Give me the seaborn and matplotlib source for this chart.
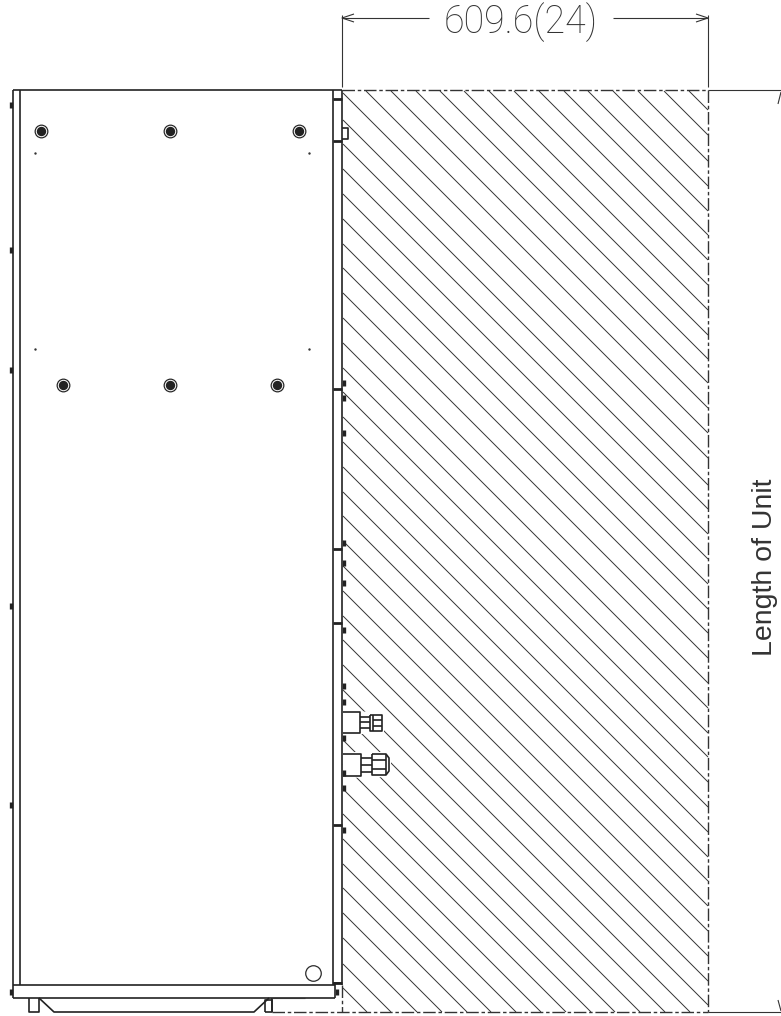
import pandas as pd
import matplotlib.pyplot as plt
import seaborn as sns

bolt_x_top = [41, 170, 299]
bolt_y_top = [131, 131, 131]
bolt_x_low = [63, 170, 277]
bolt_y_low = [385, 385, 385]
dot_x = [35, 309, 35, 309]
dot_y = [153, 153, 349, 349]
strip_bars = [99, 141, 389, 549, 623, 825, 983]
left_nubs = [105, 250, 370, 606, 805]
right_nubs = [383, 398, 433, 543, 563, 583, 630, 686, 702, 738, 773, 788, 830]
# hatch lines as y - x
hatch_offsets = [-598, -573, -547, -522, -497, -473, -448, -423, -398, -373, -349, -325,
                 -300, -275, -250, -223, -199, -174, -149, -124, -99, -75, -50, -25, 0,
                 25, 49, 74, 99, 124, 149, 173, 198, 223, 248, 273, 297, 322, 347, 372,
                 397, 421, 446, 471, 496, 521, 545, 570, 595, 621, 645]
# white areas where the hatch stops at the fittings
fitting_masks = [
    [(343, 710), (384, 713), (384, 733), (343, 735)],
    [(343, 752), (391, 752), (391, 777), (343, 778)],
]

outline = [
    [(13, 90), (342, 90)], [(13, 90), (13, 985)], [(19.5, 90), (19.5, 985)],
    [(333, 90), (333, 985)], [(342, 90), (342, 985)],
    [(13, 985), (335, 985)], [(13, 998), (335, 998)], [(12.5, 985), (12.5, 998)],
    [(334.5, 983), (334.5, 998)], [(333, 983), (342, 983)],
    [(29, 998), (29, 1012), (39, 1012), (39, 998)],
    [(39, 998), (54, 1012), (254, 1012), (269, 998)],
    [(265, 1012), (265, 1000), (272, 1000), (272, 1012), (265, 1012)],
    [(272, 998), (272, 1012)],
    [(342, 128), (348, 128), (348, 139), (342, 139)],
    # upper fitting
    [(343, 712), (360, 712), (360, 733), (343, 733)],
    [(360, 717), (370, 717)], [(360, 722), (370, 722)], [(360, 728), (370, 728)],
    [(370, 715), (382, 715), (382, 731), (370, 731), (370, 715)],
    [(373, 715), (373, 731)], [(373, 720), (382, 720)], [(373, 726), (382, 726)],
    # lower fitting
    [(343, 754), (360.5, 754), (360.5, 776), (343, 776)],
    [(360.5, 758), (372, 758)], [(360.5, 765), (372, 765)], [(360.5, 772), (372, 772)],
    [(372, 754), (386, 754), (389, 758), (389, 771), (386, 775), (372, 775), (372, 754)],
    [(386, 754), (386, 775)], [(372, 760), (386, 760)], [(372, 769), (386, 769)],
]
dim_lines = [
    [(342, 15), (342, 87)], [(708, 15), (708, 87)],
    [(342, 18), (429, 18)], [(613, 18), (708, 18)],
    [(354, 14), (342, 18), (354, 22)], [(696, 14), (708, 18), (696, 22)],
    [(708, 90), (781, 90)], [(708, 1012), (781, 1012)],
    [(272, 998), (305, 998)],
    [(781, 92), (778, 104)], [(778, 1000), (781, 1011)],
]
dashed_lines = [
    [(342, 90), (708, 90)], [(708, 90), (708, 1012)],
    [(272, 1012), (708, 1012)], [(342, 985), (342, 1012)],
]
HATCH_LEFT, HATCH_RIGHT, HATCH_TOP, HATCH_BOTTOM = 343, 708, 91, 1012


def to_frame(segments):
    rows = []
    for seg_id, seg in enumerate(segments):
        for order, (x, y) in enumerate(seg):
            rows.append({"seg": seg_id, "order": order, "x": x, "y": y})
    return pd.DataFrame(rows)


def draw(ax, segments, color, lw, **kws):
    sns.lineplot(data=to_frame(segments), x="x", y="y", units="seg", estimator=None,
                 sort=False, color=color, linewidth=lw, ax=ax, legend=False,
                 solid_capstyle="butt", errorbar=None, **kws)


def hatch_segment(c):
    # line y = x + c cut to the hatched area
    x0 = max(HATCH_LEFT, HATCH_TOP - c)
    x1 = min(HATCH_RIGHT, HATCH_BOTTOM - c)
    return [(x0, x0 + c), (x1, x1 + c)]


sns.set_theme(style="white")
plt.rcParams["font.family"] = ["Liberation Sans", "DejaVu Sans"]

fig = plt.figure(figsize=(7.81, 10.16), dpi=100)
ax = fig.add_axes([0, 0, 1, 1])

# Hatched service clearance
draw(ax, [hatch_segment(c) for c in hatch_offsets], "#333333", 0.7)
for mask in fitting_masks:
    ax.fill(*zip(*mask), color="white", linewidth=0, zorder=2)

# Unit outline and fittings
draw(ax, outline, "#222222", 1.2)
bars = [[(333, y), (342, y)] for y in strip_bars]
draw(ax, bars, "#222222", 2.0)
nubs_l = [[(10.5, y - 3), (10.5, y + 3)] for y in left_nubs + [992]]
nubs_r = [[(344, y - 3), (344, y + 3)] for y in right_nubs]
draw(ax, nubs_l + nubs_r + [[(336.5, 989), (336.5, 995)]], "#222222", 2.4)

# Dimension lines
draw(ax, dim_lines, "#333333", 0.8)
draw(ax, dashed_lines, "#333333", 1.0, linestyle=(0, (9, 2, 2.5, 2)))

# Bolts, dots and the round knock-out
bolts = pd.DataFrame({"x": bolt_x_top + bolt_x_low, "y": bolt_y_top + bolt_y_low})
for size, col in [(100, "#222222"), (68, "#ffffff"), (46, "#222222")]:
    sns.scatterplot(data=bolts, x="x", y="y", s=size, color=col, linewidth=0, ax=ax, zorder=4)
sns.scatterplot(x=dot_x, y=dot_y, s=3, color="#333333", linewidth=0, ax=ax, zorder=4)
sns.scatterplot(x=[313], y=[973], s=125, facecolor="white", edgecolor="#2a2a2a",
                linewidth=0.9, ax=ax, zorder=4)

ax.text(520.5, 22, "609.6(24)", fontsize=27, family="Roboto", fontweight="light",
        color="#333333", ha="center", va="center")
ax.text(765, 567, "Length of Unit", fontsize=20.5, color="#333333", rotation=90,
        ha="center", va="center")

ax.set_xlim(0, 781)
ax.set_ylim(1016, 0)
ax.axis("off")

fig.savefig("out.png", dpi=100, facecolor="white")
